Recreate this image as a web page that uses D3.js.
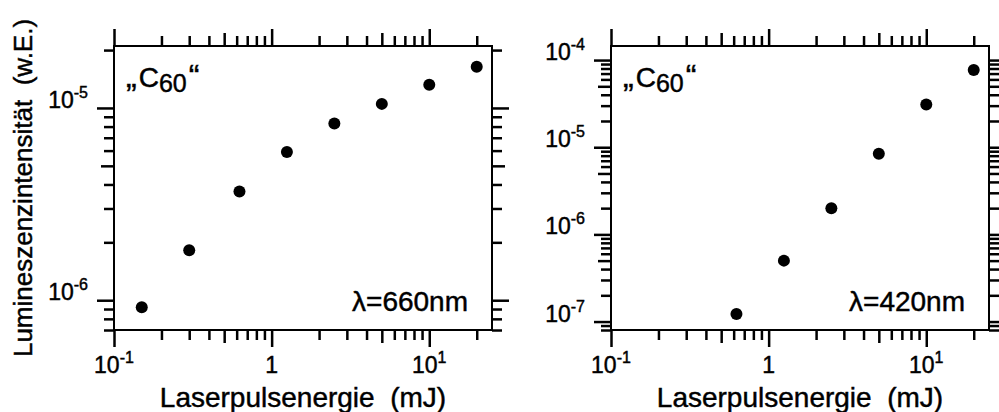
<!DOCTYPE html>
<html>
<head>
<meta charset="utf-8">
<script src="https://cdn.jsdelivr.net/npm/d3@7"></script>
<style>
  html, body { margin: 0; padding: 0; background: #fff; }
  svg { display: block; }
  text { font-family: "Liberation Sans", Arial, Helvetica, sans-serif; fill: #000;
         stroke: #000; stroke-width: 0.45px; white-space: pre; }
</style>
</head>
<body>
<svg id="chart" width="999" height="412"></svg>
<script>
// ---- data ----
const energyLeft = [0.15, 0.3, 0.625, 1.25, 2.5, 5, 10, 20];
const intensityLeft = [9.2e-7, 1.82e-6, 3.68e-6, 5.9e-6, 8.3e-6, 1.05e-5, 1.32e-5, 1.64e-5];
const energyRight = [0.625, 1.25, 2.5, 5, 10, 20];
const intensityRight = [1.22e-7, 5.0e-7, 2.0e-6, 8.4e-6, 3.1e-5, 7.7e-5];

const xDomain = [0.1, 25];
const yDomainLeft = [7e-7, 2.1e-5];
const yDomainRight = [8e-8, 1.45e-4];

const xTickValues = [0.1, 1, 10];
const xTickLabels = [["10", "-1"], ["1", ""], ["10", "1"]];
const yTickValuesLeft = [1e-6, 1e-5];
const yTickLabelsLeft = [["10", "-6"], ["10", "-5"]];
const yTickValuesRight = [1e-7, 1e-6, 1e-5, 1e-4];
const yTickLabelsRight = [["10", "-7"], ["10", "-6"], ["10", "-5"], ["10", "-4"]];

const xTitle = "Laserpulsenergie  (mJ)";
const yTitle = "Lumineszenzintensität  (w.E.)";
const sampleLabel = ["\u201E", "C", "60", "\u201C"];
const wavelengthLeft = "\u03BB=660nm";
const wavelengthRight = "\u03BB=420nm";

// ---- layout ----
const svg = d3.select("#chart");
const plotTop = 46, plotBottom = 330;
const panels = [
  { left: 114, right: 492, ex: energyLeft, iy: intensityLeft, yDom: yDomainLeft,
    yTicks: yTickValuesLeft, yLabels: yTickLabelsLeft, lambda: wavelengthLeft, yTitle: true },
  { left: 611, right: 989, ex: energyRight, iy: intensityRight, yDom: yDomainRight,
    yTicks: yTickValuesRight, yLabels: yTickLabelsRight, lambda: wavelengthRight, yTitle: false }
];

const MAJ = 17, MED = 13, MIN = 10;

function logTicks(domain) {
  const out = [];
  const lo = Math.floor(Math.log10(domain[0])), hi = Math.ceil(Math.log10(domain[1]));
  for (let d = lo; d <= hi; d++) {
    for (let k = 1; k <= 9; k++) {
      const v = k * Math.pow(10, d);
      if (v >= domain[0] * 0.9999 && v <= domain[1] * 1.0001) out.push({ v, k });
    }
  }
  return out;
}
function tickLen(k) { return k === 1 ? MAJ : (k === 5 ? MED : MIN); }

function addPowLabel(g, x, y, parts, anchor) {
  const t = g.append("text").attr("x", x).attr("y", y)
    .attr("text-anchor", anchor).style("font-size", "23px");
  t.append("tspan").text(parts[0]);
  if (parts[1]) {
    t.append("tspan").attr("dy", -10).style("font-size", "16px").text(parts[1]);
  }
  return t;
}

panels.forEach(p => {
  const x = d3.scaleLog().domain(xDomain).range([p.left, p.right]);
  const y = d3.scaleLog().domain(p.yDom).range([plotBottom, plotTop]);
  const g = svg.append("g");

  const xt = logTicks(xDomain);
  const yt = logTicks(p.yDom);

  const setLen = (sel, ticks, sign, attr) => {
    sel.selectAll(".tick line")
      .attr(attr, (d, i) => sign * tickLen(ticks[i].k))
      .attr("stroke", "#000").attr("stroke-width", 2.5);
  };

  const gb = g.append("g").attr("transform", `translate(0,${plotBottom})`)
    .call(d3.axisBottom(x).tickValues(xt.map(d => d.v)).tickFormat("").tickSizeOuter(0));
  gb.select(".domain").remove();
  setLen(gb, xt, 1, "y2");
  const gt = g.append("g").attr("transform", `translate(0,${plotTop})`)
    .call(d3.axisTop(x).tickValues(xt.map(d => d.v)).tickFormat("").tickSizeOuter(0));
  gt.select(".domain").remove();
  setLen(gt, xt, -1, "y2");
  const gl = g.append("g").attr("transform", `translate(${p.left},0)`)
    .call(d3.axisLeft(y).tickValues(yt.map(d => d.v)).tickFormat("").tickSizeOuter(0));
  gl.select(".domain").remove();
  setLen(gl, yt, -1, "x2");
  const gr = g.append("g").attr("transform", `translate(${p.right},0)`)
    .call(d3.axisRight(y).tickValues(yt.map(d => d.v)).tickFormat("").tickSizeOuter(0));
  gr.select(".domain").remove();
  setLen(gr, yt, 1, "x2");

  g.append("rect").attr("x", p.left).attr("y", plotTop)
    .attr("width", p.right - p.left).attr("height", plotBottom - plotTop)
    .attr("fill", "none").attr("stroke", "#000").attr("stroke-width", 2);

  xTickValues.forEach((v, i) => addPowLabel(g, x(v), 373, xTickLabels[i], "middle"));
  p.yTicks.forEach((v, i) => addPowLabel(g, p.left - 26, y(v), p.yLabels[i], "end"));

  g.selectAll("circle.pt").data(p.ex.map((e, i) => [e, p.iy[i]])).enter()
    .append("circle").attr("class", "pt")
    .attr("cx", d => x(d[0])).attr("cy", d => y(d[1])).attr("r", 6).attr("fill", "#000");

  const sl = g.append("text").attr("x", p.left + 12).attr("y", 87).style("font-size", "28px");
  sl.append("tspan").attr("letter-spacing", "2px").style("font-size", "32px").text(sampleLabel[0]);
  sl.append("tspan").text(sampleLabel[1]);
  sl.append("tspan").attr("dy", 5).style("font-size", "25px").text(sampleLabel[2]);
  sl.append("tspan").attr("dy", -5).attr("dx", 2).style("font-size", "32px").text(sampleLabel[3]);

  g.append("text").attr("x", p.right - 24).attr("y", 311).attr("text-anchor", "end")
    .style("font-size", "28px").text(p.lambda);

  g.append("text").attr("x", (p.left + p.right) / 2).attr("y", 407)
    .attr("text-anchor", "middle").style("font-size", "28px").text(xTitle);

  if (p.yTitle) {
    g.append("text").attr("transform", `translate(32,${(plotTop + plotBottom) / 2}) rotate(-90)`)
      .attr("text-anchor", "middle").style("font-size", "26px").text(yTitle);
  }
});
</script>
</body>
</html>
